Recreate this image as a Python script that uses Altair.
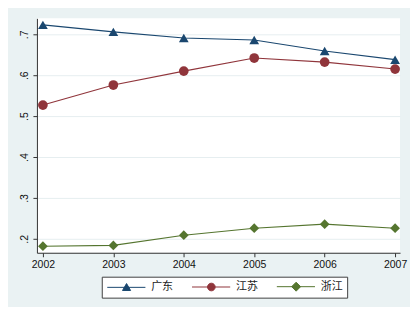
import altair as alt
import pandas as pd

years = [2002, 2003, 2004, 2005, 2006, 2007]
provinces = ["广东", "江苏", "浙江"]
guangdong = [0.723, 0.706, 0.691, 0.686, 0.659, 0.638]
jiangsu = [0.527, 0.576, 0.610, 0.642, 0.632, 0.615]
zhejiang = [0.182, 0.184, 0.209, 0.226, 0.236, 0.226]
colors = ["#1a476f", "#90353b", "#55752f"]
y_ticks = [0.2, 0.3, 0.4, 0.5, 0.6, 0.7]

rows = []
for prov, vals in zip(provinces, [guangdong, jiangsu, zhejiang]):
    for yr, v in zip(years, vals):
        rows.append({"year": yr, "value": v, "prov": prov})
df = pd.DataFrame(rows)

axis_common = dict(domainColor="#333333", tickColor="#333333", labelColor="#111111",
                   labelFont="Liberation Sans", labelFontSize=10.5, tickSize=4, title=None,
                   domainWidth=1, tickWidth=1)

x = alt.X("year:Q", scale=alt.Scale(domain=[2001.915, 2007.07], nice=False, zero=False),
          axis=alt.Axis(values=years, format="d", grid=False, labelPadding=3, **axis_common))
y = alt.Y("value:Q", scale=alt.Scale(domain=[0.166, 0.739], nice=False, zero=False),
          axis=alt.Axis(values=y_ticks, grid=True, gridColor="#E6EEF0", gridWidth=1,
                        labelExpr="replace(format(datum.value, '.1f'), '0.', '.')",
                        labelAngle=270, labelAlign="center", labelBaseline="bottom",
                        labelPadding=3, **axis_common))

color_scale = alt.Scale(domain=provinces, range=colors)

base = alt.Chart(df)

lines = base.mark_line(strokeWidth=1.1).encode(
    x=x, y=y, color=alt.Color("prov:N", scale=color_scale, legend=None))

points = base.mark_point(filled=True, opacity=1, strokeWidth=0.6).encode(
    x=x, y=y,
    color=alt.Color("prov:N", scale=color_scale, legend=None),
    shape=alt.Shape("prov:N", scale=alt.Scale(domain=provinces,
                                              range=["triangle-up", "circle", "diamond"]),
                    legend=None),
    size=alt.value(95))

leg_paths = [
    "M-1,0H7.5M3.3,-0.85L4.2,0.7L2.4,0.7Z",
    "M-1,0H7.5M4.15,0A0.85,0.85 0 1,1 2.45,0A0.85,0.85 0 1,1 4.15,0Z",
    "M-1,0H7.5M3.3,-1L4.3,0L3.3,1L2.3,0Z",
]

legend_props = dict(title=None, orient="none", legendX=65, legendY=259,
                    direction="horizontal", strokeColor="#404040", fillColor="white",
                    padding=4.5, symbolSize=81, symbolStrokeWidth=1, labelOffset=34,
                    columnPadding=17, labelFont="Noto Sans CJK SC", labelFontSize=11,
                    labelColor="#222222", cornerRadius=0)

legend_layer = base.transform_filter("false").mark_point(filled=True, opacity=1).encode(
    x=x, y=y,
    color=alt.Color("prov:N", scale=alt.Scale(domain=provinces, range=colors),
                    legend=alt.Legend(**legend_props)),
    stroke=alt.Stroke("prov:N", scale=alt.Scale(domain=provinces, range=colors),
                      legend=alt.Legend(**legend_props)),
    shape=alt.Shape("prov:N", scale=alt.Scale(domain=provinces, range=leg_paths),
                    legend=alt.Legend(**legend_props)),
    size=alt.value(81))

chart = alt.layer(lines, points, legend_layer).resolve_scale(
    color="independent", shape="independent", stroke="independent"
).properties(
    width=364, height=235, background="#EAF2F3",
    autosize=alt.AutoSizeParams(type="none"),
    padding={"left": 29, "top": 10, "right": 10, "bottom": 54},
).configure_view(stroke=None, fill="white")

chart.save("out.html", embed_options={"renderer": "svg", "actions": False})
